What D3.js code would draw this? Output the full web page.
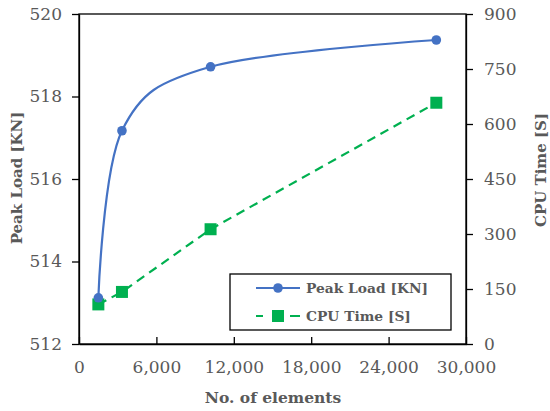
<!DOCTYPE html>
<html>
<head>
<meta charset="utf-8">
<script src="https://cdn.jsdelivr.net/npm/d3@7"></script>
<style>
  body { margin: 0; background: #fff; }
</style>
</head>
<body>
<svg id="chart"></svg>
<script>
// Data
const elements = [1500, 3330, 10200, 27700];
const peakLoad = [513.12, 517.17, 518.72, 519.37];
const cpuTime = [108, 142, 313, 658];
const xTicks = [0, 6000, 12000, 18000, 24000, 30000];
const yLeftTicks = [512, 514, 516, 518, 520];
const yRightTicks = [0, 150, 300, 450, 600, 750, 900];

const width = 550, height = 411;
const margin = { top: 14, right: 84, bottom: 67, left: 79 };
const serif = "'DejaVu Serif', 'Noto Serif', serif";

const svg = d3.select("#chart")
    .attr("width", width)
    .attr("height", height)
    .attr("font-family", serif);

const x = d3.scaleLinear().domain([0, 30000]).range([margin.left, width - margin.right]);
const yL = d3.scaleLinear().domain([512, 520]).range([height - margin.bottom, margin.top]);
const yR = d3.scaleLinear().domain([0, 900]).range([height - margin.bottom, margin.top]);

const grey = "#595959";

// Plot frame
svg.append("rect")
    .attr("x", margin.left)
    .attr("y", margin.top)
    .attr("width", width - margin.left - margin.right)
    .attr("height", height - margin.top - margin.bottom)
    .attr("fill", "none")
    .attr("stroke", "#000")
    .attr("stroke-width", 1.3);

// Axes
const fmt = d3.format(",");
const xAxis = svg.append("g")
    .attr("transform", `translate(0,${height - margin.bottom})`)
    .call(d3.axisBottom(x).tickValues(xTicks).tickFormat(fmt).tickSizeInner(-7).tickSizeOuter(0).tickPadding(17));

const leftAxis = svg.append("g")
    .attr("transform", `translate(${margin.left},0)`)
    .call(d3.axisLeft(yL).tickValues(yLeftTicks).tickSizeInner(7).tickSizeOuter(0).tickPadding(10));

const rightAxis = svg.append("g")
    .attr("transform", `translate(${width - margin.right},0)`)
    .call(d3.axisRight(yR).tickValues(yRightTicks).tickSizeInner(7).tickSizeOuter(0).tickPadding(11));

[xAxis, leftAxis, rightAxis].forEach(g => {
    g.attr("font-family", serif).attr("font-size", 17);
    g.select(".domain").attr("stroke", "#000").attr("stroke-width", 1.3);
    g.selectAll(".tick line").attr("stroke", "#000").attr("stroke-width", 1.3);
    g.selectAll(".tick text").attr("fill", grey);
});

// Axis titles
svg.append("text")
    .attr("x", 273)
    .attr("y", 403)
    .attr("text-anchor", "middle")
    .attr("fill", grey)
    .attr("font-size", 15.5)
    .attr("font-weight", "bold")
    .text("No. of elements");

svg.append("text")
    .attr("transform", "translate(22,178) rotate(-90)")
    .attr("text-anchor", "middle")
    .attr("fill", grey)
    .attr("font-size", 15)
    .attr("font-weight", "bold")
    .text("Peak Load [KN]");

svg.append("text")
    .attr("transform", "translate(546,170) rotate(-90)")
    .attr("text-anchor", "middle")
    .attr("fill", grey)
    .attr("font-size", 15)
    .attr("font-weight", "bold")
    .text("CPU Time [S]");

const blue = "#4472C4", green = "#00B050";

// CPU time series (dashed, square markers)
const cpuData = elements.map((e, i) => ({ x: e, y: cpuTime[i] }));
svg.append("path")
    .datum(cpuData)
    .attr("fill", "none")
    .attr("stroke", green)
    .attr("stroke-width", 2.2)
    .attr("stroke-dasharray", "9,6")
    .attr("d", d3.line().x(d => x(d.x)).y(d => yR(d.y)));

svg.selectAll(".cpu-pt")
    .data(cpuData)
    .enter()
    .append("rect")
    .attr("x", d => x(d.x) - 6)
    .attr("y", d => yR(d.y) - 6)
    .attr("width", 12)
    .attr("height", 12)
    .attr("fill", green);

// Peak load series (smoothed, circle markers)
const loadData = elements.map((e, i) => ({ x: e, y: peakLoad[i] }));
svg.append("path")
    .datum(loadData)
    .attr("fill", "none")
    .attr("stroke", blue)
    .attr("stroke-width", 2.2)
    .attr("d", d3.line().x(d => x(d.x)).y(d => yL(d.y)).curve(d3.curveCardinal));

svg.selectAll(".load-pt")
    .data(loadData)
    .enter()
    .append("circle")
    .attr("cx", d => x(d.x))
    .attr("cy", d => yL(d.y))
    .attr("r", 4.8)
    .attr("fill", blue);

// Legend
const legend = svg.append("g").attr("transform", "translate(230,274)");
legend.append("rect")
    .attr("width", 221)
    .attr("height", 56)
    .attr("fill", "#fff")
    .attr("stroke", "#000")
    .attr("stroke-width", 1.3);

const items = [
    { label: "Peak Load [KN]", color: blue, dash: null, marker: "circle", y: 14 },
    { label: "CPU Time [S]", color: green, dash: "7,27,10", marker: "square", y: 42 }
];
items.forEach(it => {
    legend.append("line")
        .attr("x1", 26).attr("x2", 70)
        .attr("y1", it.y).attr("y2", it.y)
        .attr("stroke", it.color)
        .attr("stroke-width", 2.2)
        .attr("stroke-dasharray", it.dash);
    if (it.marker === "circle") {
        legend.append("circle").attr("cx", 48).attr("cy", it.y).attr("r", 4.8).attr("fill", it.color);
    } else {
        legend.append("rect").attr("x", 42).attr("y", it.y - 6).attr("width", 12).attr("height", 12).attr("fill", it.color);
    }
    legend.append("text")
        .attr("x", 76)
        .attr("y", it.y + 5)
        .attr("fill", grey)
        .attr("font-size", 13.8)
        .attr("font-weight", "bold")
        .text(it.label);
});
</script>
</body>
</html>
